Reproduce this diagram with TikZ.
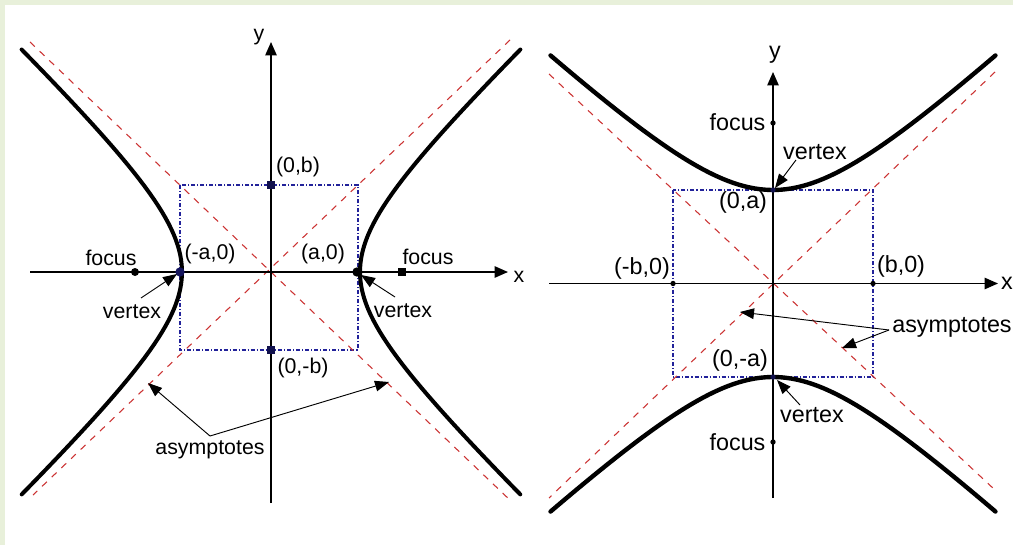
\documentclass[tikz,border=0pt]{standalone}
\usepackage{fontspec}
\setmainfont{Liberation Sans}
\usetikzlibrary{arrows.meta}
\definecolor{bggreen}{HTML}{E8F0DA}
\definecolor{asred}{HTML}{CC3333}
\definecolor{boxblue}{HTML}{22229A}
\begin{document}
\begin{tikzpicture}[x=0.75pt,y=-0.75pt,
  axisline/.style={line width=1.1pt, -{Triangle[length=10pt,width=8.5pt]}},
  hyp/.style={line width=3pt, line cap=round},
  asym/.style={asred, line width=0.8pt, dash pattern=on 5pt off 5pt},
  rectbox/.style={boxblue, line width=0.9pt, dash pattern=on 3pt off 1.5pt on 0.8pt off 1.5pt},
  dot/.style={circle, fill=black, inner sep=0pt, minimum size=5pt},
  sdot/.style={circle, fill=black, inner sep=0pt, minimum size=4pt},
  lblL/.style={font=\fontsize{16}{19}\selectfont, inner sep=1pt},
  lblR/.style={font=\fontsize{17.5}{20}\selectfont, inner sep=1pt},
  pointer/.style={line width=0.7pt, -{Triangle[length=10.5pt,width=8pt]}}]
\useasboundingbox (0,0) rectangle (1013,545);
\fill[bggreen] (0,0) rectangle (1013,545);
\fill[white] (5,5) rectangle (1013,545);

% ================= LEFT PANEL =================
\draw[rectbox] (180,185) rectangle (358,350);
\draw[asym] (30,42) -- (512,502);
\draw[asym] (510,40) -- (33,495);
\coordinate (LxS) at (30,272);
\coordinate (LxE) at (508,272);
\coordinate (LyS) at (271,503);
\coordinate (LyE) at (271,42);
\draw[axisline] (LxS) -- (LxE);
\draw[axisline] (LyS) -- (LyE);
\node[lblL] (Lylab) at (259,37) {y};
\node[lblL] (Lxlab) at (519,277) {x};
\draw[hyp] plot[domain=-1.69:1.69, samples=60, variable=\t] ({271+89*cosh(\t)},{272+85*sinh(\t)});
\draw[hyp] plot[domain=-1.69:1.69, samples=60, variable=\t] ({271-89*cosh(\t)},{272+85*sinh(\t)});
\node[dot, minimum size=6pt] (LfocL) at (135,272) {};
\node[dot, minimum size=6pt, rectangle] (LfocR) at (402,272) {};
\node[dot, minimum size=7pt, fill=boxblue!60!black] (LvL) at (180,272) {};
\node[dot, minimum size=7pt] (LvR) at (357,272) {};
\node[dot, minimum size=6pt, rectangle, fill=boxblue!50!black] (Lb) at (271,185) {};
\node[dot, minimum size=6pt, rectangle, fill=boxblue!50!black] (Lmb) at (271,350) {};
\node[lblL] (LfocLlab) at (111,258) {focus};
\node[lblL] (LfocRlab) at (428,257) {focus};
\node[lblL] (LvLlab) at (210,254) {(-a,0)};
\node[lblL] (LvRlab) at (323,254) {(a,0)};
\node[lblL] (LbLab) at (298,167) {(0,b)};
\node[lblL] (LmbLab) at (303,368) {(0,-b)};
\node[lblL] (LvertL) at (132,312) {vertex};
\node[lblL] (LvertR) at (403,311) {vertex};
\node[lblL] (Lasym) at (210,450) {asymptotes};
\coordinate (LvertLs) at (141,298);
\coordinate (LvertLt) at (177,274);
\coordinate (LvertRs) at (395,297);
\coordinate (LvertRt) at (361,275);
\draw[pointer] (LvertLs) -- (LvertLt);
\draw[pointer] (LvertRs) -- (LvertRt);
\coordinate (Lasyms) at (210,436);
\coordinate (LasymT1) at (148,383);
\coordinate (LasymT2) at (389,382);
\draw[pointer] (Lasyms) -- (LasymT1);
\draw[pointer] (Lasyms) -- (LasymT2);

% ================= RIGHT PANEL =================
\draw[rectbox] (673,190) rectangle (873,377);
\draw[asym] (549,74) -- (995,490);
\draw[asym] (995,72) -- (549,498);
\coordinate (RxS) at (549,283.5);
\coordinate (RxE) at (998,283.5);
\coordinate (RyS) at (773,498);
\coordinate (RyE) at (773,72);
\draw[axisline] (RxS) -- (RxE);
\draw[axisline] (RyS) -- (RyE);
\node[lblR] (Rylab) at (775,55) {y};
\node[lblR] (Rxlab) at (1007,283) {x};
\draw[hyp, line width=3.3pt] plot[domain=-1.54:1.54, samples=60, variable=\t] ({773+100*sinh(\t)},{283.5-93.5*cosh(\t)});
\draw[hyp, line width=3.3pt] plot[domain=-1.54:1.54, samples=60, variable=\t] ({773+100*sinh(\t)},{283.5+93.5*cosh(\t)});
\node[sdot] (RfocU) at (773,123) {};
\node[sdot] (RfocD) at (773,442) {};
\node[sdot] (RmbX) at (673,283.5) {};
\node[sdot] (RbX) at (873,283.5) {};
\node[sdot, fill=boxblue!50!black] (RvU) at (773,190) {};
\node[sdot, fill=boxblue!50!black] (RvD) at (773,377) {};
\node[lblR, anchor=east] (RfocUlab) at (767,122) {focus};
\node[lblR, anchor=east] (RfocDlab) at (767,442) {focus};
\node[lblR] (RvertU) at (815,152) {vertex};
\node[lblR] (RvertD) at (812,415) {vertex};
\node[lblR] (RaLab) at (743,202) {(0,a)};
\node[lblR] (RmaLab) at (740,360) {(0,-a)};
\node[lblR] (RmbLab) at (642,268) {(-b,0)};
\node[lblR] (RbLab) at (901,266) {(b,0)};
\node[lblR] (Rasym) at (952,327) {asymptotes};
\coordinate (RvertUs) at (796,160);
\coordinate (RvertUt) at (775,188);
\coordinate (RvertDs) at (800,405);
\coordinate (RvertDt) at (777,380);
\draw[pointer] (RvertUs) -- (RvertUt);
\draw[pointer] (RvertDs) -- (RvertDt);
\coordinate (Rasyms) at (889,330);
\coordinate (RasymT1) at (740,312);
\coordinate (RasymT2) at (842,348);
\draw[pointer] (Rasyms) -- (RasymT1);
\draw[pointer] (Rasyms) -- (RasymT2);
\end{tikzpicture}
\end{document}
